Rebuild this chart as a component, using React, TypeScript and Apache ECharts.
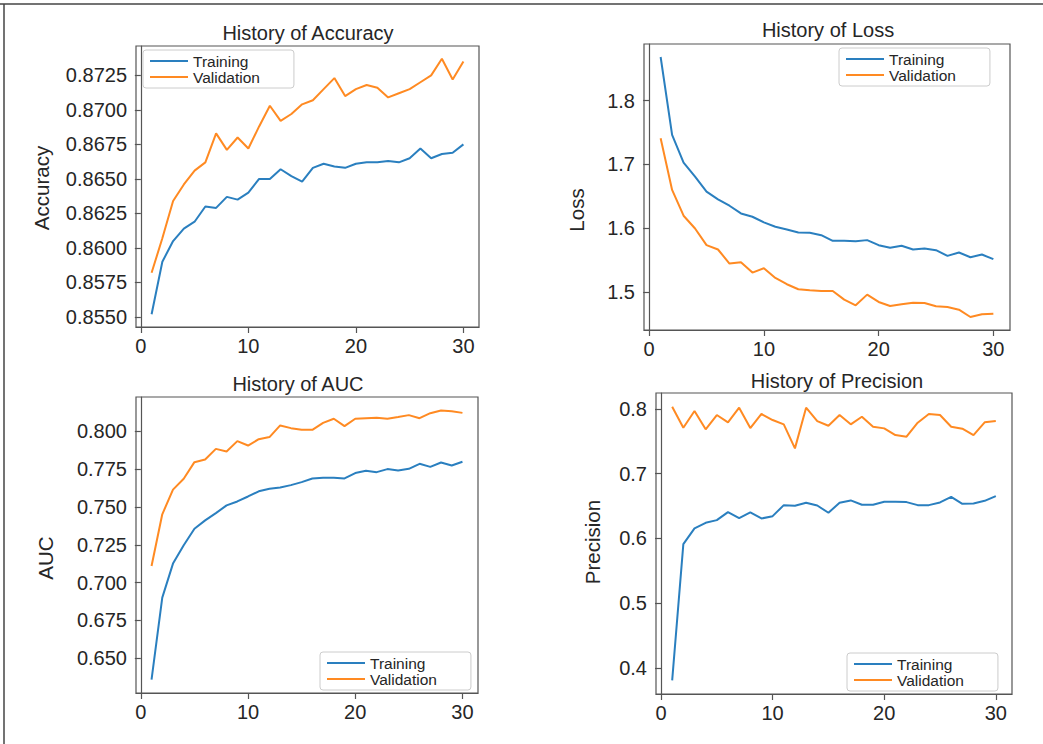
import React, { useEffect, useRef } from "react";
import * as echarts from "echarts";

const epochs = [1, 2, 3, 4, 5, 6, 7, 8, 9, 10, 11, 12, 13, 14, 15, 16, 17, 18, 19, 20, 21, 22, 23, 24, 25, 26, 27, 28, 29, 30];

const accTrain = [0.8552, 0.859, 0.8605, 0.8614, 0.8619, 0.863, 0.8629, 0.8637, 0.8635, 0.864, 0.865, 0.865, 0.8657, 0.8652, 0.8648, 0.8658, 0.8661, 0.8659, 0.8658, 0.8661, 0.8662, 0.8662, 0.8663, 0.8662, 0.8665, 0.8672, 0.8665, 0.8668, 0.8669, 0.8675];
const accVal = [0.8582, 0.8607, 0.8634, 0.8646, 0.8656, 0.8662, 0.8683, 0.8671, 0.868, 0.8672, 0.8688, 0.8703, 0.8692, 0.8697, 0.8704, 0.8707, 0.8715, 0.8723, 0.871, 0.8715, 0.8718, 0.8716, 0.8709, 0.8712, 0.8715, 0.872, 0.8725, 0.8737, 0.8722, 0.8735];
const lossTrain = [1.8686, 1.7465, 1.7029, 1.6809, 1.6573, 1.6453, 1.6353, 1.6232, 1.618, 1.6091, 1.6023, 1.5981, 1.5933, 1.5928, 1.5891, 1.5802, 1.5802, 1.5797, 1.5813, 1.5734, 1.5692, 1.5724, 1.5666, 1.5682, 1.5655, 1.5566, 1.5619, 1.5545, 1.5587, 1.5514];
const lossVal = [1.7412, 1.66, 1.6196, 1.5996, 1.5734, 1.5666, 1.5446, 1.5467, 1.5304, 1.5372, 1.522, 1.5121, 1.5042, 1.5026, 1.5016, 1.5016, 1.4879, 1.479, 1.4958, 1.4843, 1.478, 1.4806, 1.4832, 1.4827, 1.4775, 1.4764, 1.4722, 1.4607, 1.4649, 1.4659];
const aucTrain = [0.6359, 0.6901, 0.7126, 0.7247, 0.7357, 0.7412, 0.746, 0.7511, 0.7537, 0.757, 0.7604, 0.7621, 0.763, 0.7645, 0.7665, 0.7689, 0.7694, 0.7694, 0.7689, 0.7725, 0.774, 0.7731, 0.7751, 0.7742, 0.7753, 0.7786, 0.7766, 0.7795, 0.7775, 0.78];
const aucVal = [0.711, 0.7452, 0.7615, 0.7687, 0.7797, 0.7815, 0.7885, 0.7868, 0.7936, 0.7907, 0.7949, 0.7963, 0.804, 0.8022, 0.8011, 0.8011, 0.8057, 0.8084, 0.8035, 0.8084, 0.8088, 0.809, 0.8084, 0.8095, 0.8108, 0.8088, 0.8121, 0.8139, 0.8134, 0.8123];
const precTrain = [0.3809, 0.5912, 0.6155, 0.6242, 0.6284, 0.6407, 0.6314, 0.6402, 0.6309, 0.6345, 0.6515, 0.6505, 0.6552, 0.651, 0.6397, 0.6552, 0.6588, 0.6521, 0.6521, 0.6567, 0.6567, 0.6562, 0.6515, 0.6515, 0.6557, 0.6644, 0.6536, 0.6541, 0.6582, 0.6655];
const precVal = [0.8036, 0.7711, 0.7969, 0.7686, 0.7907, 0.7794, 0.8021, 0.7706, 0.7923, 0.783, 0.7763, 0.7392, 0.8021, 0.7814, 0.7742, 0.7907, 0.7763, 0.7881, 0.7727, 0.7701, 0.7598, 0.7572, 0.7789, 0.7923, 0.7907, 0.7727, 0.7696, 0.7598, 0.7794, 0.7814];

const xTicks = [0, 10, 20, 30];
const accTicks = [0.855, 0.8575, 0.86, 0.8625, 0.865, 0.8675, 0.87, 0.8725];
const lossTicks = [1.5, 1.6, 1.7, 1.8];
const aucTicks = [0.65, 0.675, 0.7, 0.725, 0.75, 0.775, 0.8];
const precTicks = [0.4, 0.5, 0.6, 0.7, 0.8];

const seriesNames = ["Training", "Validation"];

const FONT = "'Liberation Sans', Arial, sans-serif";
const TEXT = "#262626";
const AXIS = "#555555";
const BLUE = "#2a7fbf";
const ORANGE = "#ff8a22";

function limits(a: number[], b: number[]): [number, number] {
  const lo = Math.min(...a, ...b);
  const hi = Math.max(...a, ...b);
  const m = (hi - lo) * 0.05;
  return [lo - m, hi + m];
}

const panels = [
  { title: "History of Accuracy", name: "Accuracy", train: accTrain, val: accVal, ticks: accTicks, dec: 4,
    grid: { left: 136, top: 46, width: 343, height: 281 }, tx: 308, ty: 33, nx: 41, ny: 188,
    legend: { left: 143, top: 50 } },
  { title: "History of Loss", name: "Loss", train: lossTrain, val: lossVal, ticks: lossTicks, dec: 1,
    grid: { left: 644, top: 44, width: 366, height: 286 }, tx: 828, ty: 30, nx: 576, ny: 210,
    legend: { left: 839, top: 48 } },
  { title: "History of AUC", name: "AUC", train: aucTrain, val: aucVal, ticks: aucTicks, dec: 3,
    grid: { left: 136, top: 397, width: 342, height: 296 }, tx: 298, ty: 384, nx: 45, ny: 558,
    legend: { left: 320, top: 652 } },
  { title: "History of Precision", name: "Precision", train: precTrain, val: precVal, ticks: precTicks, dec: 1,
    grid: { left: 656, top: 393, width: 356, height: 301 }, tx: 837, ty: 381, nx: 592, ny: 542,
    legend: { left: 847, top: 653 } },
];

export default function App() {
  const ref = useRef<HTMLDivElement>(null);
  useEffect(() => {
    if (!ref.current) return;
    const chart = echarts.init(ref.current, undefined, { renderer: "svg" });
    const grids: any[] = [];
    const xAxes: any[] = [];
    const yAxes: any[] = [];
    const series: any[] = [];
    const legends: any[] = [];
    const graphics: any[] = [
      { type: "line", shape: { x1: 0, y1: 4, x2: 1043, y2: 4 }, style: { stroke: "#444", lineWidth: 1.5 }, silent: true },
      { type: "line", shape: { x1: 4, y1: 4, x2: 4, y2: 744 }, style: { stroke: "#444", lineWidth: 1.5 }, silent: true },
    ];
    panels.forEach((p, i) => {
      grids.push({ ...p.grid, show: true, borderColor: AXIS, borderWidth: 1.2, backgroundColor: "#fff", containLabel: false });
      const [ylo, yhi] = limits(p.train, p.val);
      const span = epochs[epochs.length - 1] - epochs[0];
      const xlo = epochs[0] - span * 0.05;
      const xhi = epochs[epochs.length - 1] + span * 0.05;
      xAxes.push({
        type: "value", gridIndex: i, min: xlo, max: xhi,
        axisLine: { show: true, lineStyle: { color: AXIS, width: 1.2 } },
        axisTick: { show: true, length: 6, customValues: xTicks, lineStyle: { color: AXIS, width: 1.2 } },
        axisLabel: { customValues: xTicks, margin: 9, fontSize: 20, color: TEXT, fontFamily: FONT },
        splitLine: { show: false },
      });
      yAxes.push({
        type: "value", gridIndex: i, min: ylo, max: yhi,
        axisLine: { show: true, lineStyle: { color: AXIS, width: 1.2 } },
        axisTick: { show: true, length: 6, customValues: p.ticks, lineStyle: { color: AXIS, width: 1.2 } },
        axisLabel: {
          customValues: p.ticks, margin: 9, fontSize: 20, color: TEXT, fontFamily: FONT,
          formatter: (v: number) => v.toFixed(p.dec),
        },
        splitLine: { show: false },
      });
      [p.train, p.val].forEach((vals, k) => {
        series.push({
          type: "line", name: seriesNames[k], xAxisIndex: i, yAxisIndex: i,
          data: epochs.map((e, j) => [e, vals[j]]),
          showSymbol: false, symbol: "none",
          lineStyle: { color: k === 0 ? BLUE : ORANGE, width: 2 },
          itemStyle: { color: k === 0 ? BLUE : ORANGE },
        });
      });
      legends.push({
        ...p.legend, orient: "vertical", data: seriesNames, itemGap: 0,
        itemWidth: 38, itemHeight: 2, icon: "rect",
        padding: [3, 34, 3, 7], borderColor: "#cccccc", borderWidth: 1, borderRadius: 3,
        backgroundColor: "rgba(255,255,255,0.85)",
        textStyle: { fontSize: 15.5, color: TEXT, fontFamily: FONT, lineHeight: 15, padding: [0, 0, 0, 0] },
        selectedMode: false,
      });
      graphics.push({
        type: "text", x: p.tx, y: p.ty, silent: true,
        style: { text: p.title, fontSize: 20, fill: TEXT, fontFamily: FONT, textAlign: "center", textVerticalAlign: "middle" },
      });
      graphics.push({
        type: "text", x: p.nx, y: p.ny, rotation: Math.PI / 2, silent: true,
        style: { text: p.name, fontSize: 20.5, fill: TEXT, fontFamily: FONT, textAlign: "center", textVerticalAlign: "middle" },
      });
    });
    chart.setOption({
      animation: false,
      backgroundColor: "#ffffff",
      grid: grids,
      xAxis: xAxes,
      yAxis: yAxes,
      series,
      legend: legends,
      graphic: graphics,
    });
    return () => chart.dispose();
  }, []);
  return <div ref={ref} style={{ position: "absolute", left: 0, top: 0, width: 1043, height: 744 }} />;
}
